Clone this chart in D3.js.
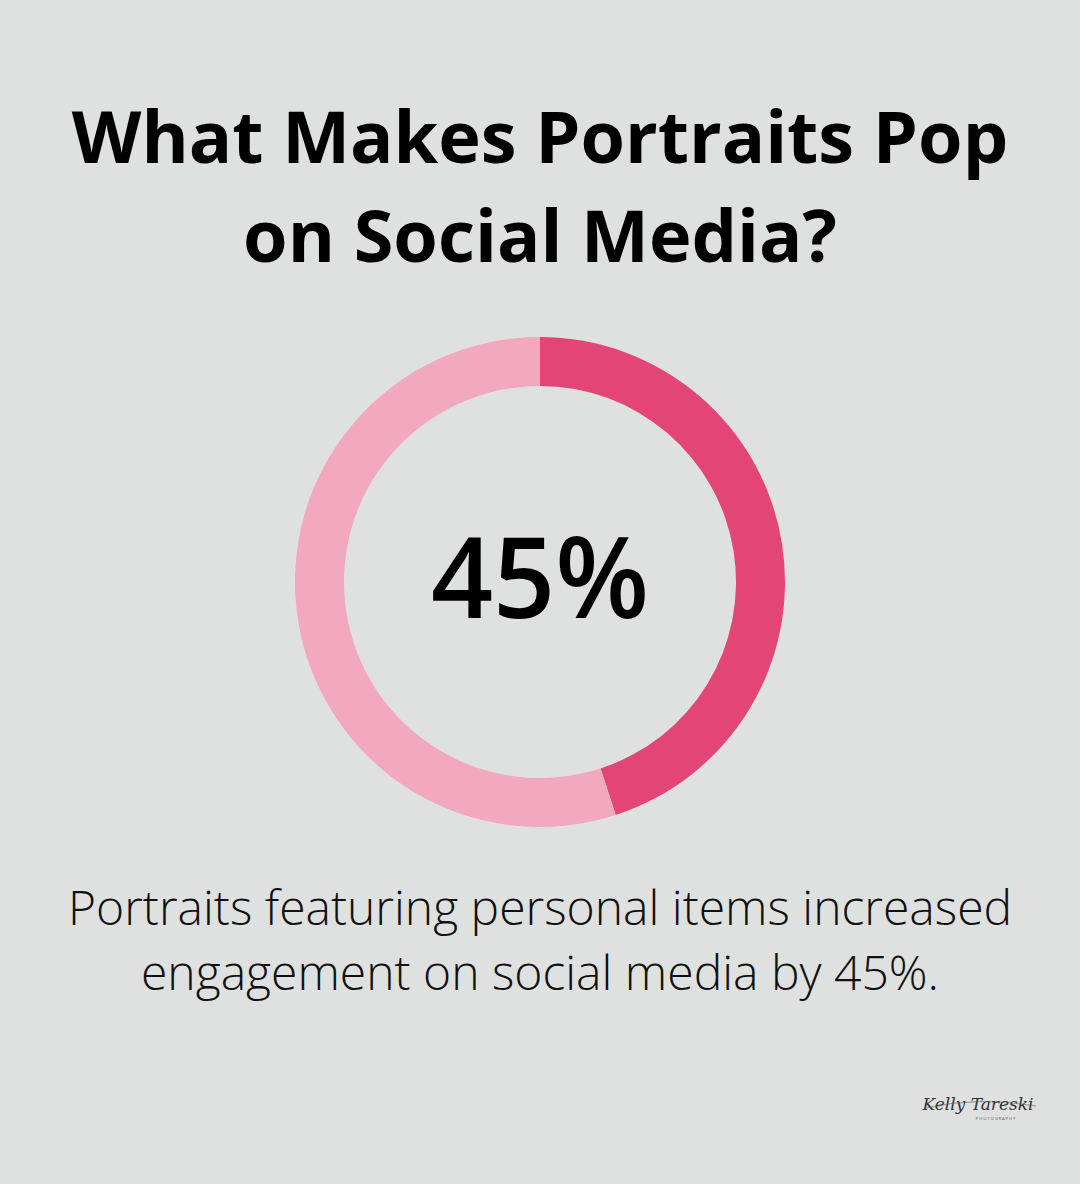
<!DOCTYPE html>
<html><head><meta charset="utf-8">
<script src="https://cdn.jsdelivr.net/npm/d3@7"></script>
<style>html,body{margin:0;padding:0;background:#dfe1e0;}</style>
</head><body>
<script>
const categories = ["Increased engagement", "Remainder"];
const values = [45, 55];
const titleLines = ["What Makes Portraits Pop", "on Social Media?"];
const centerLabel = "45%";
const descLines = ["Portraits featuring personal items increased", "engagement on social media by 45%."];
const colors = ["#e44577", "#f2a8be"];

const W = 1080, H = 1184;
const svg = d3.select("body").append("svg").attr("width", W).attr("height", H);
svg.append("rect").attr("width", W).attr("height", H).attr("fill", "#dfe1e0");

svg.selectAll("text.title").data(titleLines).join("text")
  .attr("class","title")
  .attr("x", 540).attr("y", (d,i)=>163 + i*99)
  .attr("text-anchor","middle")
  .style("font-family","'Open Sans'").style("font-weight",700).style("font-size","72px")
  .attr("fill","#000").text(d=>d);

const pie = d3.pie().sort(null).value(d=>d);
const arc = d3.arc().innerRadius(196).outerRadius(245);
const g = svg.append("g").attr("transform","translate(540,582)");
g.selectAll("path").data(pie(values)).join("path")
  .attr("d", arc).attr("fill",(d,i)=>colors[i]);

const center = g.append("text").attr("y", 36).attr("text-anchor","middle")
  .style("font-family","'Open Sans'").style("font-weight",600).style("font-size","112px")
  .attr("fill","#000").text(centerLabel);
// fit width to reference (~218px)
const bw = center.node().getComputedTextLength();
if (bw > 0) center.attr("textLength", 218).attr("lengthAdjust","spacingAndGlyphs");

svg.selectAll("text.desc").data(descLines).join("text")
  .attr("class","desc")
  .attr("x", 540).attr("y",(d,i)=>925 + i*65)
  .attr("text-anchor","middle")
  .style("font-family","'Open Sans'").style("font-weight",300).style("font-size","48px")
  .attr("fill","#111").text(d=>d);

// logo
const logo = svg.append("g").attr("transform","translate(978,1110)");
logo.append("text").attr("text-anchor","middle")
  .style("font-family","'DejaVu Serif'").style("font-style","italic").style("font-size","17px")
  .attr("fill","#333").text("Kelly Tareski");
logo.append("text").attr("y",10).attr("x",18).attr("text-anchor","middle")
  .style("font-family","'Open Sans'").style("font-size","4px").style("letter-spacing","1px")
  .attr("fill","#555").text("PHOTOGRAPHY");
logo.append("path").attr("d","M-52,-2 Q0,-14 58,-4").attr("fill","none").attr("stroke","#555").attr("stroke-width",0.6);
</script>
</body></html>
